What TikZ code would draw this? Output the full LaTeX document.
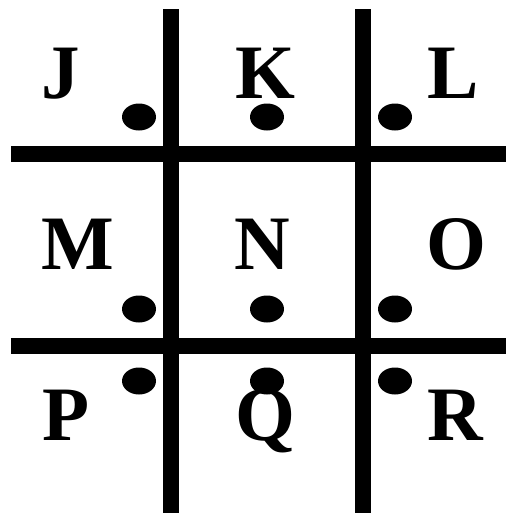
\documentclass[tikz,border=0pt]{standalone}
\usepackage{fontspec}
\setmainfont{Liberation Serif}
\usepackage{tikz}
\usetikzlibrary{shapes.geometric}

\begin{document}
\begin{tikzpicture}[x=1pt,y=-1pt,
  bar/.style={line width=16pt},
  letter/.style={anchor=base,inner sep=0pt,font=\fontsize{77}{77}\selectfont\bfseries},
  dot/.style={ellipse,fill=black,inner sep=0pt,minimum width=34pt,minimum height=27pt}]
\useasboundingbox (0,0) rectangle (506,514);
% grid
\draw[bar] (171,9) -- (171,513);
\draw[bar] (363,9) -- (363,513);
\draw[bar] (11,153.5) -- (506,153.5);
\draw[bar] (11,345.5) -- (506,345.5);
% letters
\node[letter] (J) at (61,98) {J};
\node[letter] (K) at (265,98) {K};
\node[letter] (L) at (453,98) {L};
\node[letter] (M) at (78,269) {M};
\node[letter] (N) at (262,269) {N};
\node[letter] (O) at (456,269) {O};
\node[letter] (P) at (66,440) {P};
\node[letter] (Q) at (265,440) {Q};
\node[letter] (R) at (455,440) {R};
% dots
\node[dot] (dJ) at (139,117) {};
\node[dot] (dK) at (267,117) {};
\node[dot] (dL) at (395,117) {};
\node[dot] (dM) at (139,309) {};
\node[dot] (dN) at (267,309) {};
\node[dot] (dO) at (395,309) {};
\node[dot] (dP) at (139,381) {};
\node[dot] (dQ) at (267,381) {};
\node[dot] (dR) at (395,381) {};
\end{tikzpicture}
\end{document}
